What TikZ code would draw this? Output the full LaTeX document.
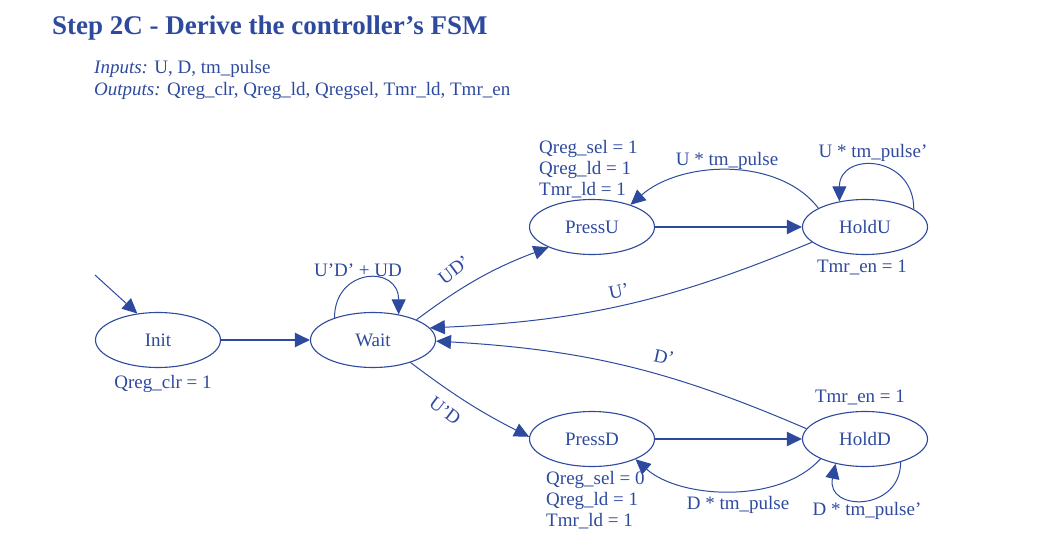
\documentclass[tikz,border=0pt]{standalone}
\usepackage{fontspec}
\setmainfont{Liberation Serif}
\usepackage{xcolor}
\usepackage{tikz}
\usetikzlibrary{positioning,arrows.meta,shapes.geometric,calc}
\definecolor{fsmblue}{RGB}{46,74,158}

\begin{document}
\begin{tikzpicture}[x=1pt,y=-1pt,
  every node/.style={text=fsmblue,font=\fontsize{19}{22}\selectfont,inner sep=0pt},
  state/.style={draw=fsmblue,line width=1.1pt,ellipse,minimum width=125pt,minimum height=55pt},
  trans/.style={draw=fsmblue,line width=1pt,-{Triangle[length=15pt,width=14pt]}},
  thick trans/.style={trans,line width=2pt}]
  \useasboundingbox (0,0) rectangle (1048,545);
  % heading
  \node[anchor=base west,font=\fontsize{27}{32}\selectfont\bfseries] (title) at (52,35)
    {Step 2C - Derive the controller’s FSM};
  \node[anchor=base west] (inputs) at (94,74) {\textit{Inputs:} U, D, tm\_pulse};
  \node[anchor=base west] (outputs) at (94,96) {\textit{Outputs:} Qreg\_clr, Qreg\_ld, Qregsel, Tmr\_ld, Tmr\_en};
  % states
  \node[state] (init) at (158,340) {Init};
  \node[state] (wait) at (373,340) {Wait};
  \node[state] (pressu) at (592,227) {PressU};
  \node[state] (holdu) at (865,227) {HoldU};
  \node[state] (pressd) at (592,439) {PressD};
  \node[state] (holdd) at (865,439) {HoldD};
  % outputs of the states
  \node[anchor=base] (initout) at (163,388) {Qreg\_clr = 1};
  \foreach \i/\t in {0/Qreg\_sel = 1,1/Qreg\_ld = 1,2/Tmr\_ld = 1}{
    \node[anchor=base west] (puout\i) at (539,154+21*\i) {\t};
  }
  \foreach \i/\t in {0/Qreg\_sel = 0,1/Qreg\_ld = 1,2/Tmr\_ld = 1}{
    \node[anchor=base west] (pdout\i) at (546,484+21*\i) {\t};
  }
  \node[anchor=base] (huout) at (862,272) {Tmr\_en = 1};
  \node[anchor=base] (hdout) at (860,402) {Tmr\_en = 1};
  % transitions
  \coordinate (start) at (95,275);
  \draw[trans] (start) -- (init.128);
  \draw[thick trans] (init) -- (wait);
  \draw[trans] (wait.150) .. controls +(0,-50) and +(0,-50) .. (wait.45);
  \draw[trans] (wait.25) to[bend left=8] (pressu.205);
  \draw[thick trans] (pressu) -- (holdu);
  \draw[trans] (holdu.158) .. controls +(-40,-52) and +(50,-44) .. (pressu.30);
  \draw[trans] (holdu.20) .. controls +(0,-55) and +(0,-50) .. (holdu.135);
  \draw[trans] (holdu.196) to[bend left=10] (wait.12);
  \draw[trans] (holdd.170) to[bend right=10] (wait.-1);
  \draw[trans] (wait.-31) to[bend right=5] (pressd.178);
  \draw[thick trans] (pressd) -- (holdd);
  \draw[trans] (holdd.204) .. controls +(-40,45) and +(45,40) .. (pressd.-25);
  \draw[trans] (holdd.-33) .. controls +(0,50) and +(-10,48) .. (holdd.-140);
  % conditions
  \node[anchor=base] (cwait) at (358,276) {U’D’ + UD};
  \node[rotate=37] (cud) at (454,270) {UD’};
  \node[rotate=-37] (cdu) at (445,411) {U’D};
  \node[rotate=12] (cu) at (619,291) {U’};
  \node[rotate=-12] (cd) at (664,357) {D’};
  \node[anchor=base] (cupulse) at (727,166) {U * tm\_pulse};
  \node[anchor=base] (cuhold) at (873,158) {U * tm\_pulse’};
  \node[anchor=base] (cdpulse) at (738,509) {D * tm\_pulse};
  \node[anchor=base] (cdhold) at (867,515) {D * tm\_pulse’};
\end{tikzpicture}
\end{document}
